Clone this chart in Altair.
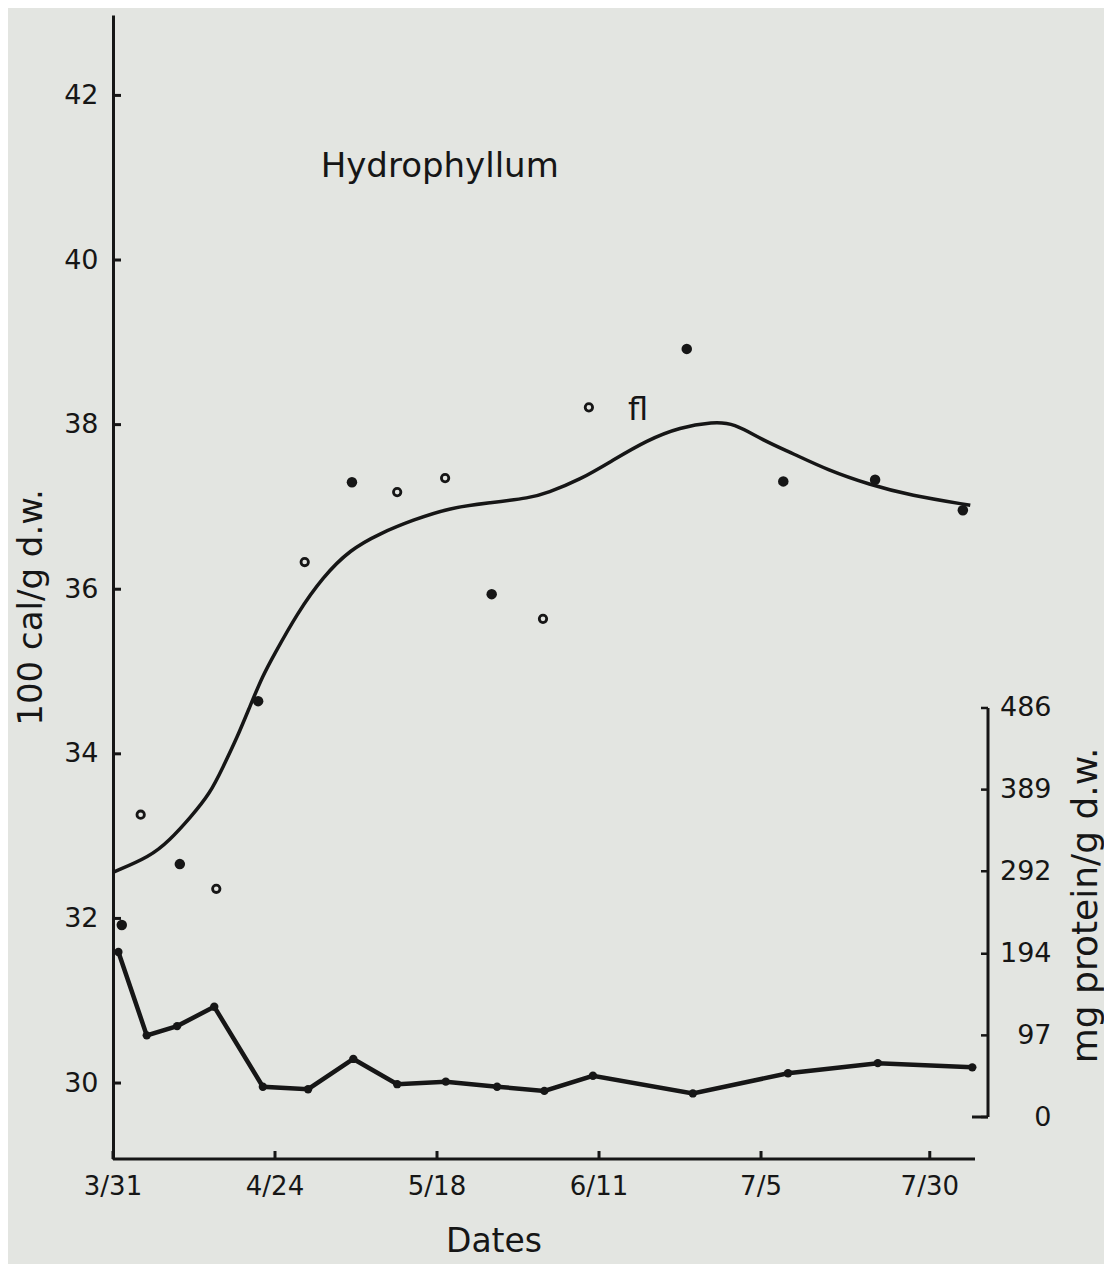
import altair as alt
import pandas as pd

# ---------------- data ----------------
# smooth calorie curve (days after 3/31, 100 cal/g d.w.)
curve_days = [0, 5.5, 8.4, 11.4, 14.4, 16.3, 18.4, 20.4, 22.2, 23.7, 27.3, 31.1, 35.1,
              39.6, 44.4, 49.9, 55.9, 61.8, 64.3, 69.2, 74.1, 79.1, 84.0, 88.9, 91.9,
              96.3, 100.7, 105.8, 112.1, 118.1, 127.0]
curve_vals = [32.56, 32.75, 32.95, 33.22, 33.52, 33.84, 34.20, 34.60, 34.95, 35.18, 35.71,
              36.15, 36.48, 36.68, 36.84, 36.99, 37.05, 37.11, 37.17, 37.33, 37.57, 37.81,
              37.97, 38.03, 38.02, 37.81, 37.65, 37.45, 37.27, 37.14, 37.02]

# calorie observations, filled dots
filled_days = [1.3, 9.9, 21.5, 35.4, 56.1, 85.0, 99.3, 112.9, 125.9]
filled_vals = [31.92, 32.66, 34.64, 37.30, 35.94, 38.92, 37.31, 37.33, 36.96]

# calorie observations, open dots
open_days = [4.1, 15.3, 28.4, 42.1, 49.2, 63.7, 70.5]
open_vals = [33.26, 32.36, 36.33, 37.18, 37.35, 35.64, 38.21]

# protein (mg protein/g d.w.)
prot_days = [0.8, 5.0, 9.5, 15.0, 22.2, 28.9, 35.6, 42.1, 49.3, 56.9, 63.9, 71.1,
             85.9, 100.0, 113.3, 127.3]
prot_vals = [196, 97, 108, 131, 36, 33, 69, 39, 42, 36, 31, 49, 28, 52, 64, 59]

# axes
x_tick_days = [0, 24, 48, 72, 96, 121]
x_tick_labels = ["3/31", "4/24", "5/18", "6/11", "7/5", "7/30"]
left_ticks = [30, 32, 34, 36, 38, 40, 42]
right_ticks = [0, 97, 194, 292, 389, 486]

x_title = "Dates"
title_text = "Hydrophyllum"
title_pos = (48.4, 41.13)
fl_text = "fl"
fl_pos = (77.8, 38.18)

# ---------------- chart ----------------
INK = "#161616"
BG = "#e3e5e1"
FONT = "DejaVu Sans"
W, H = 862, 1144
R_OFF = 13

X_DOM = [0, 127.7]
L_DOM = [29.077, 42.977]
R_DOM = [-49.9, 1309.4]


def xs():
    return alt.Scale(domain=X_DOM, nice=False, zero=False)


def ls():
    return alt.Scale(domain=L_DOM, nice=False, zero=False)


def rs():
    return alt.Scale(domain=R_DOM, nice=False, zero=False)


left_axis = alt.Axis(values=left_ticks, orient="left", ticks=False, tickSize=0,
                     domainColor=INK, domainWidth=3, grid=False, labelFont=FONT,
                     labelFontSize=27, labelColor=INK, labelPadding=15,
                     labelFlush=False, labelOverlap=False,
                     title="100 cal/g d.w.", titleFont=FONT, titleFontSize=34,
                     titleFontWeight="normal", titleColor=INK, titleAngle=270,
                     titleX=-82, titleY=592, titleAlign="center", titleBaseline="middle")

right_axis = alt.Axis(values=right_ticks, orient="right", offset=R_OFF, domain=False,
                      ticks=False, tickSize=0, grid=False, labelFont=FONT,
                      labelFontSize=27, labelColor=INK, labelAlign="right",
                      labelPadding=63, labelFlush=False, labelOverlap=False,
                      title="mg protein/g d.w.", titleFont=FONT, titleFontSize=36,
                      titleFontWeight="normal", titleColor=INK, titleAngle=270,
                      titleX=97, titleY=890, titleAlign="center", titleBaseline="middle")

curve_df = pd.DataFrame({"day": curve_days, "val": curve_vals})
filled_df = pd.DataFrame({"day": filled_days, "val": filled_vals})
open_df = pd.DataFrame({"day": open_days, "val": open_vals})
prot_df = pd.DataFrame({"day": prot_days, "mg": prot_vals})
xt_df = pd.DataFrame({"d": x_tick_days, "lab": x_tick_labels})

curve = alt.Chart(curve_df).mark_line(interpolate="basis", strokeWidth=3.5,
                                      color=INK).encode(
    x=alt.X("day:Q", scale=xs(), axis=None),
    y=alt.Y("val:Q", scale=ls(), axis=left_axis),
)

filled = alt.Chart(filled_df).mark_circle(size=110, opacity=1, color=INK).encode(
    x=alt.X("day:Q", scale=xs(), axis=None),
    y=alt.Y("val:Q", scale=ls(), axis=None),
)

opened = alt.Chart(open_df).mark_point(shape="circle", filled=False, size=55,
                                       strokeWidth=2.8, color=INK, opacity=1).encode(
    x=alt.X("day:Q", scale=xs(), axis=None),
    y=alt.Y("val:Q", scale=ls(), axis=None),
)

ttl = alt.Chart(pd.DataFrame({"day": [title_pos[0]], "val": [title_pos[1]],
                              "t": [title_text]})).mark_text(
    font=FONT, fontSize=34, color=INK, align="center", baseline="middle").encode(
    x=alt.X("day:Q", scale=xs(), axis=None),
    y=alt.Y("val:Q", scale=ls(), axis=None),
    text="t:N",
)

fl = alt.Chart(pd.DataFrame({"day": [fl_pos[0]], "val": [fl_pos[1]],
                             "t": [fl_text]})).mark_text(
    font=FONT, fontSize=32, color=INK, align="center", baseline="middle").encode(
    x=alt.X("day:Q", scale=xs(), axis=None),
    y=alt.Y("val:Q", scale=ls(), axis=None),
    text="t:N",
)

lticks = alt.Chart(pd.DataFrame({"v": left_ticks})).mark_rule(
    color=INK, strokeWidth=3).encode(
    y=alt.Y("v:Q", scale=ls(), axis=None),
    x=alt.value(0), x2=alt.value(8),
)

# bottom axis: line, inward ticks, labels, title
xdomain_df = pd.DataFrame({"lo": [X_DOM[0]], "hi": [X_DOM[1]]})
bline = alt.Chart(xdomain_df).mark_rule(color=INK, strokeWidth=3).encode(
    x=alt.X("lo:Q", scale=xs(), axis=None), x2="hi:Q",
    y=alt.value(H),
)

bticks = alt.Chart(xt_df).mark_rule(color=INK, strokeWidth=3).encode(
    x=alt.X("d:Q", scale=xs(), axis=None),
    y=alt.value(H), y2=alt.value(H - 8),
)

blabels = alt.Chart(xt_df).mark_text(
    font=FONT, fontSize=26, color=INK, align="center", baseline="top").encode(
    x=alt.X("d:Q", scale=xs(), axis=None),
    y=alt.value(H + 15),
    text="lab:N",
)

btitle = alt.Chart(pd.DataFrame({"t": [x_title]})).mark_text(
    font=FONT, fontSize=33, color=INK, align="center", baseline="top").encode(
    x=alt.value(381), y=alt.value(H + 67),
    text="t:N",
)

prot_line = alt.Chart(prot_df).mark_line(strokeWidth=4.5, color=INK).encode(
    x=alt.X("day:Q", scale=xs(), axis=None),
    y=alt.Y("mg:Q", scale=rs(), axis=right_axis),
)
prot_dots = alt.Chart(prot_df).mark_circle(size=70, opacity=1, color=INK).encode(
    x=alt.X("day:Q", scale=xs(), axis=None),
    y=alt.Y("mg:Q", scale=rs(), axis=None),
)

rticks = alt.Chart(pd.DataFrame({"v": right_ticks})).mark_rule(
    color=INK, strokeWidth=2.5).encode(
    y=alt.Y("v:Q", scale=rs(), axis=None),
    x=alt.value(W + R_OFF - 7), x2=alt.value(W + R_OFF),
)

rline_df = pd.DataFrame({"lo": [right_ticks[0]], "hi": [right_ticks[-1]]})
rline = alt.Chart(rline_df).mark_rule(color=INK, strokeWidth=3).encode(
    y=alt.Y("lo:Q", scale=rs(), axis=None), y2="hi:Q",
    x=alt.value(W + R_OFF),
)
hook = alt.Chart(rline_df).mark_rule(color=INK, strokeWidth=3).encode(
    y=alt.Y("lo:Q", scale=rs(), axis=None),
    x=alt.value(W - 3), x2=alt.value(W + R_OFF),
)

chart = alt.layer(
    curve, filled, opened, ttl, fl, lticks, bline, bticks, blabels, btitle,
    prot_line, prot_dots, rticks, rline, hook,
).resolve_scale(y="independent").properties(
    width=W, height=H,
    autosize=alt.AutoSizeParams(type="none"),
    padding={"left": 105, "top": 7, "right": 129, "bottom": 105},
    background=BG,
).configure_view(stroke=None)

chart.save("out.html", embed_options={"renderer": "svg", "actions": False})
